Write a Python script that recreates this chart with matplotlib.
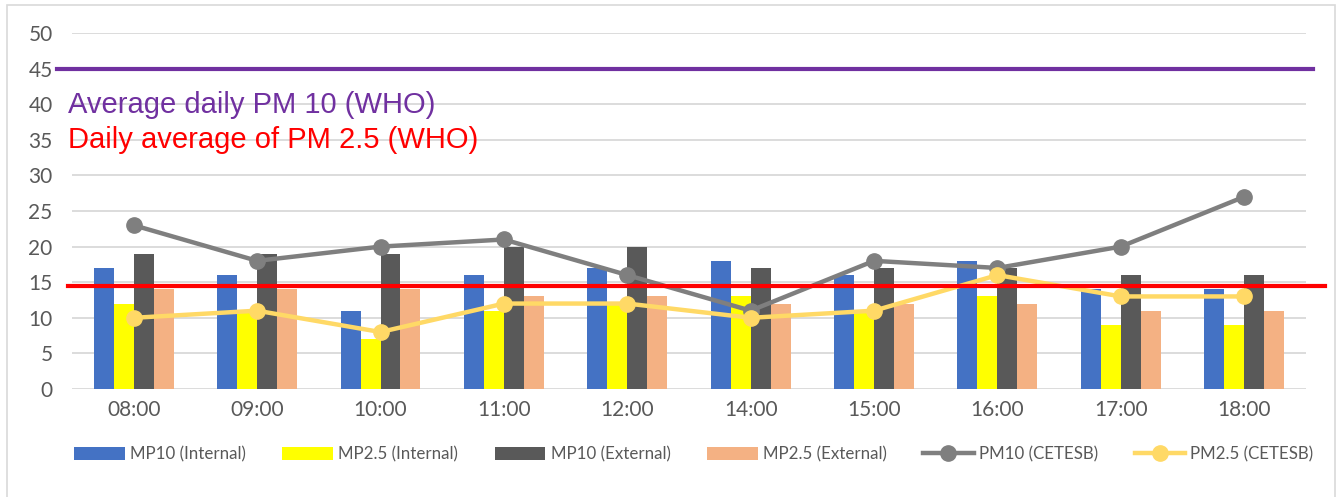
import numpy as np
import matplotlib
matplotlib.use("Agg")
import matplotlib.pyplot as plt
from matplotlib.patches import Rectangle

hours = ["08:00", "09:00", "10:00", "11:00", "12:00", "14:00", "15:00", "16:00", "17:00", "18:00"]
mp10_int = [17, 16, 11, 16, 17, 18, 16, 18, 14, 14]
mp25_int = [12, 11, 7, 11, 12, 13, 11, 13, 9, 9]
mp10_ext = [19, 19, 19, 20, 20, 17, 17, 17, 16, 16]
mp25_ext = [14, 14, 14, 13, 13, 12, 12, 12, 11, 11]
pm10_cetesb = [23, 18, 20, 21, 16, 11, 18, 17, 20, 27]
pm25_cetesb = [10, 11, 8, 12, 12, 10, 11, 16, 13, 13]
who_pm10 = 45
who_pm25 = 14.5

plt.rcParams['font.family'] = ['Lato', 'DejaVu Sans']
fig = plt.figure(figsize=(13.39, 4.97), dpi=100)
ax = fig.add_axes([0.0538, 0.2173, 0.9215, 0.7163])

x = np.arange(len(hours))
w = 0.162
bar_sets = [(mp10_int, "#4472C4", "MP10 (Internal)"),
            (mp25_int, "#FFFF00", "MP2.5 (Internal)"),
            (mp10_ext, "#595959", "MP10 (External)"),
            (mp25_ext, "#F4B183", "MP2.5 (External)")]
handles = []
for k, (vals, col, lab) in enumerate(bar_sets):
    b = ax.bar(x + (k - 1.5) * w, vals, w, color=col, label=lab, zorder=2)
    handles.append(b)

l1, = ax.plot(x, pm10_cetesb, color="#7F7F7F", lw=3.2, marker="o", ms=11, zorder=4, label="PM10 (CETESB)")
l2, = ax.plot(x, pm25_cetesb, color="#FFD966", lw=3.2, marker="o", ms=11, zorder=4, label="PM2.5 (CETESB)")
handles += [l1, l2]

ax.set_xlim(-0.5, 9.5)
ax.set_ylim(0, 50)
ax.set_yticks(range(0, 51, 5))
ax.set_xticks(x)
ax.set_xticklabels(hours)
ax.grid(axis="y", color="#D9D9D9", lw=1.3, zorder=0)
ax.set_axisbelow(True)
for s in ax.spines.values():
    s.set_visible(False)
ax.tick_params(length=0, labelsize=15, colors="#595959", pad=8)
ax.tick_params(axis="y", pad=14)

# WHO guide lines drawn like shapes on top of the chart
ax.plot([-0.62, 9.557], [who_pm10, who_pm10], color="#7030A0", lw=3, clip_on=False, zorder=6)
ax.plot([-0.532, 9.654], [who_pm25, who_pm25], color="#FF0000", lw=3, clip_on=False, zorder=6)
ax.text(-0.532, 38.8, "Average daily PM 10 (WHO)", color="#7030A0", fontsize=21,
        family=["Liberation Sans"], va="baseline", ha="left", zorder=7)
ax.text(-0.532, 33.8, "Daily average of PM 2.5 (WHO)", color="#FF0000", fontsize=21,
        family=["Liberation Sans"], va="baseline", ha="left", zorder=7)

leg = fig.legend(handles=handles, loc="center left", bbox_to_anchor=(0.044, 0.086), ncol=6,
                 frameon=False, fontsize=12.2, handlelength=3.0, handleheight=0.75,
                 handletextpad=0.3, columnspacing=2.15)
for t in leg.get_texts():
    t.set_color("#595959")

fig.patches.append(Rectangle((7 / 1339, -0.05), 1328 / 1339, 1 - 5 / 497 + 0.05,
                             transform=fig.transFigure, fill=False, edgecolor="#D9D9D9", lw=1.2))

fig.savefig("out.png", dpi=100)
